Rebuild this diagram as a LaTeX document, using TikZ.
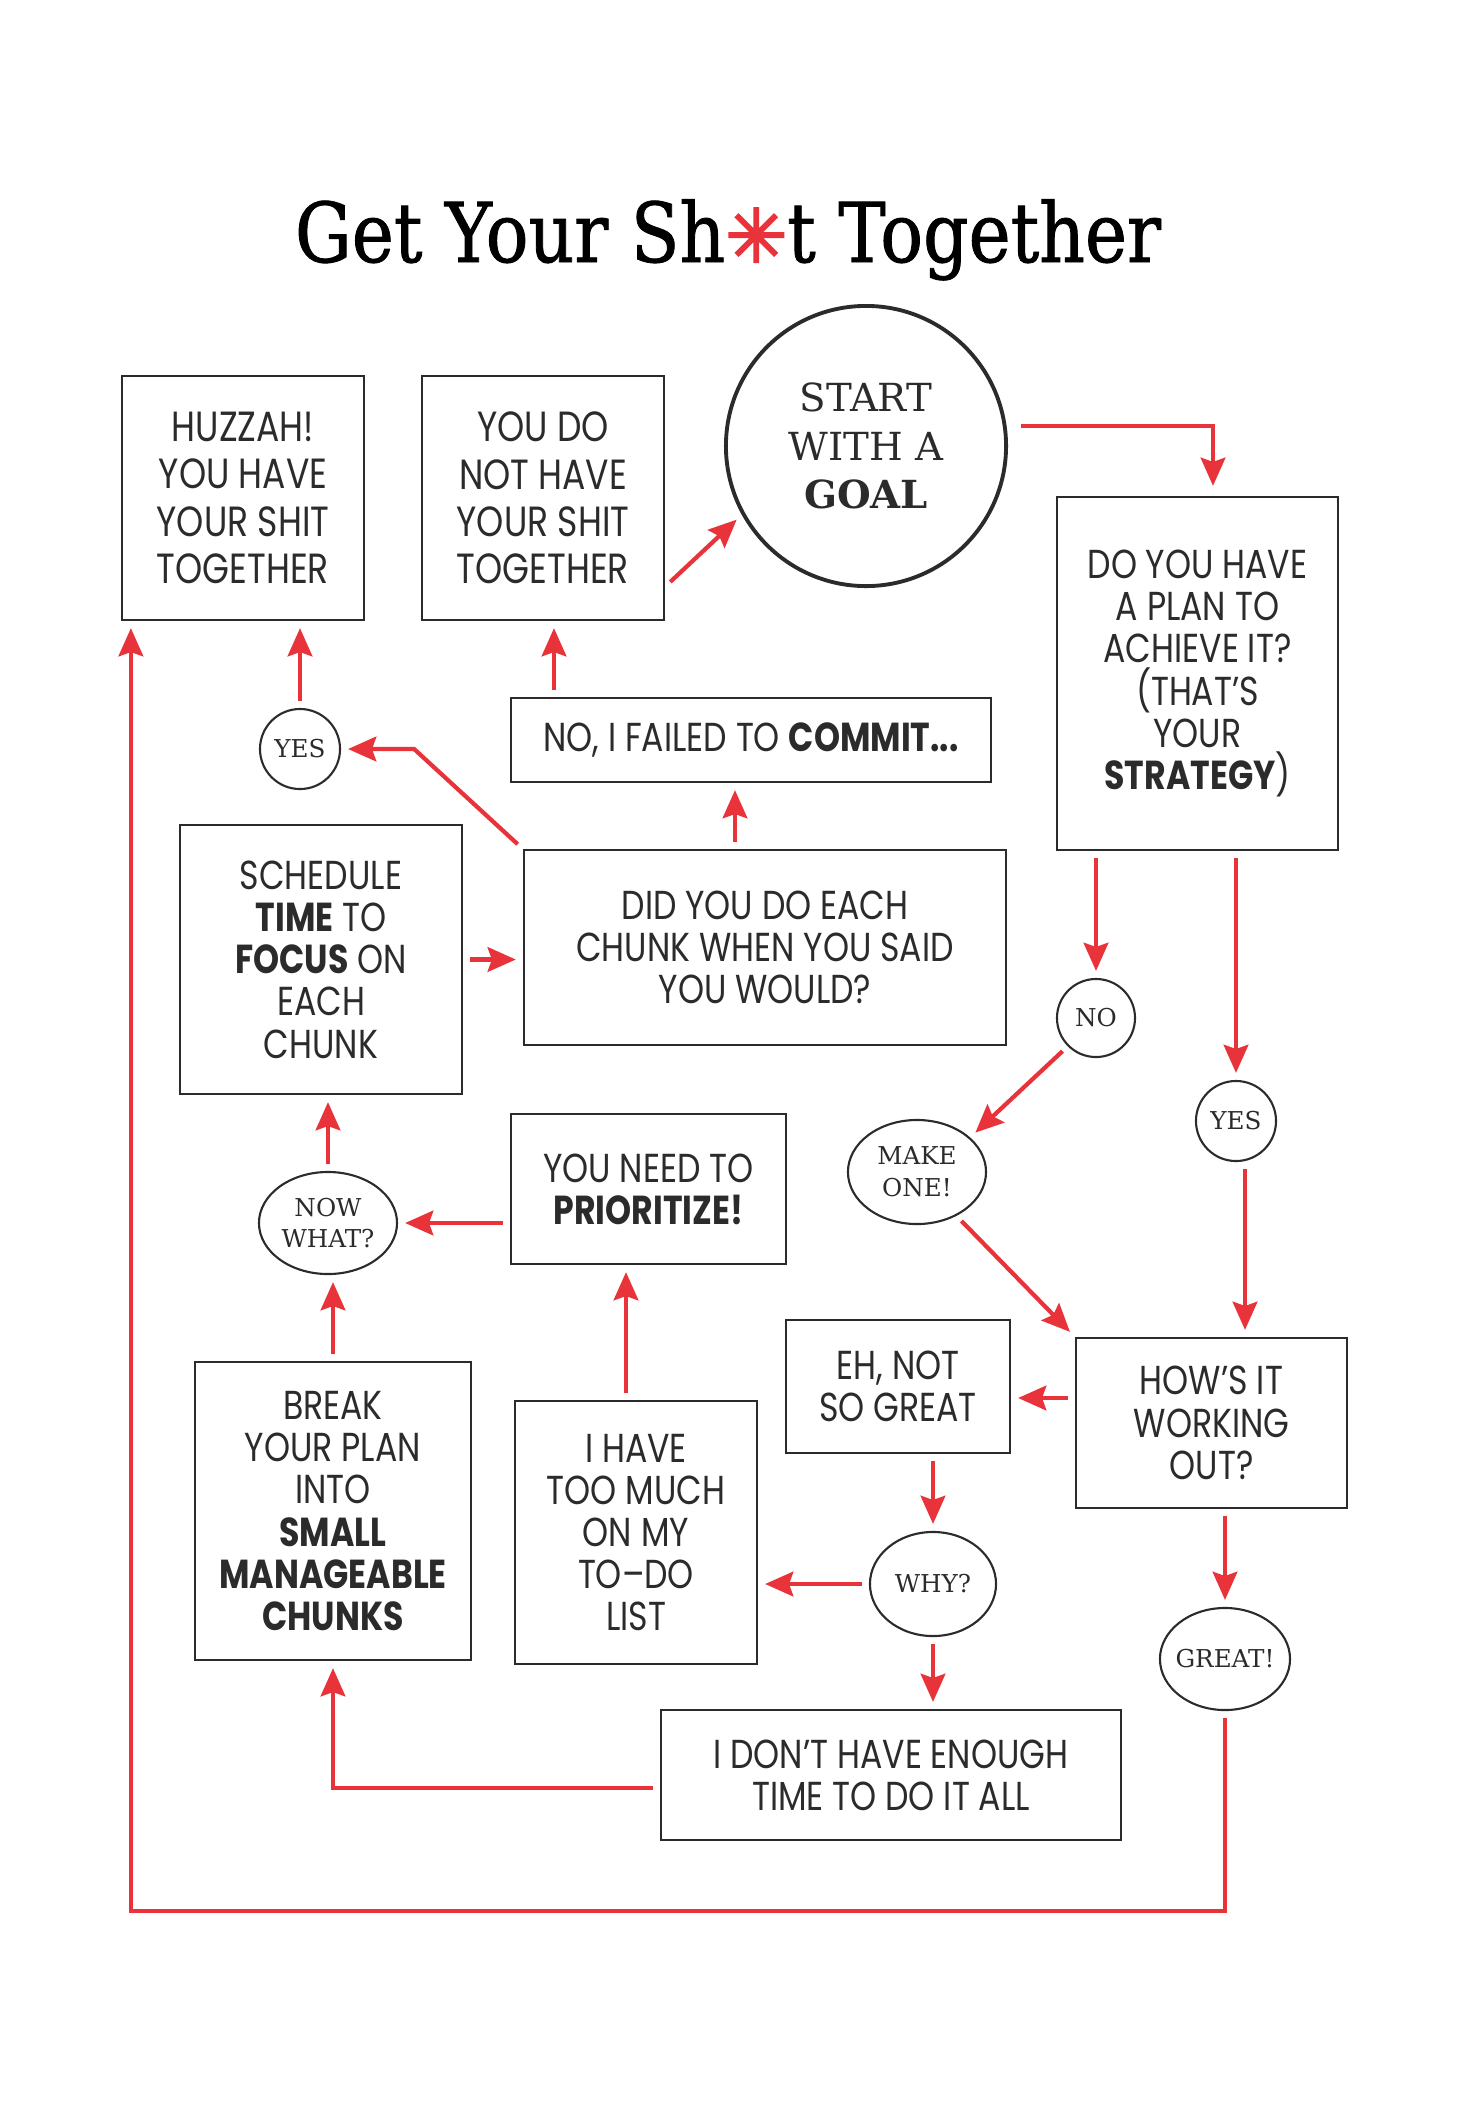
\documentclass[tikz,border=0pt]{standalone}
\usepackage{fontspec}
\setmainfont{Poppins}[FakeStretch=0.82]
\newfontfamily\serifface{DejaVu Serif}
\newfontfamily\titleface{DejaVu Serif}[FakeStretch=0.86,FakeBold=1]
\newfontfamily\symface{DejaVu Sans}[FakeBold=3]
\usetikzlibrary{arrows.meta,shapes.geometric}
\definecolor{arrred}{HTML}{E8333A}
\definecolor{ink}{HTML}{2B2B2B}

\begin{document}
\begin{tikzpicture}[x=0.01cm,y=-0.01cm,
  box/.style={draw=ink,line width=0.6pt,inner sep=0pt,align=center,text=ink,font=\fontsize{11.5}{12}\selectfont},
  tallbox/.style={box,font=\fontsize{12}{13.5}\selectfont},
  goal/.style={circle,draw=ink,line width=1.1pt,inner sep=0pt,align=center,text=ink,minimum size=2.8cm,font=\serifface\fontsize{11}{13.7}\selectfont},
  bubble/.style={ellipse,draw=ink,line width=0.6pt,inner xsep=-2pt,inner ysep=0pt,align=center,text=ink,font=\serifface\fontsize{7}{9}\selectfont},
  arr/.style={draw=arrred,line width=1.2pt,-{Stealth[length=8pt,width=7pt,inset=1.2pt]},shorten >=0.07cm,shorten <=0.07cm}]

\useasboundingbox (0,0) rectangle (1456,2108);

%Title
\node [anchor=base] (title) at (728,262) {\titleface\fontsize{23.5}{26}\selectfont Get Your Sh\textcolor{arrred}{\symface\fontsize{21}{26}\selectfont ✳}t Together};

%Top row
\node [tallbox,minimum width=2.42cm,minimum height=2.44cm] (huzzah) at (243,498) {HUZZAH!\\YOU HAVE\\YOUR SHIT\\TOGETHER};
\node [tallbox,minimum width=2.42cm,minimum height=2.44cm] (notdone) at (543,498) {YOU DO\\NOT HAVE\\YOUR SHIT\\TOGETHER};
\node [goal] (start) at (866,446) {START\\WITH A\\\textbf{GOAL}};
\node [box,minimum width=2.81cm,minimum height=3.53cm] (plan) at (1197.5,673.5) {DO YOU HAVE\\A PLAN TO\\ACHIEVE IT?\\(THAT’S\\YOUR\\\textbf{STRATEGY})};

%Middle
\node [box,minimum width=4.80cm,minimum height=0.84cm] (failed) at (751,740) {NO, I FAILED TO \textbf{COMMIT...}};
\node [bubble,minimum width=0.8cm,minimum height=0.8cm] (yesA) at (300,749) {YES};
\node [box,minimum width=2.82cm,minimum height=2.69cm] (schedule) at (321,959.5) {SCHEDULE\\\textbf{TIME} TO\\\textbf{FOCUS} ON\\EACH\\CHUNK};
\node [box,minimum width=4.82cm,minimum height=1.95cm] (did) at (765,947.5) {DID YOU DO EACH\\CHUNK WHEN YOU SAID\\YOU WOULD?};
\node [bubble,minimum width=0.78cm,minimum height=0.78cm] (noC) at (1096,1018) {NO};
\node [bubble,minimum width=0.8cm,minimum height=0.8cm] (yesB) at (1236,1121) {YES};
\node [bubble,minimum width=1.38cm,minimum height=1.04cm] (makeone) at (917,1172) {MAKE\\ONE!};
\node [box,minimum width=2.75cm,minimum height=1.50cm] (prioritize) at (648.5,1189) {YOU NEED TO\\\textbf{PRIORITIZE!}};
\node [bubble,minimum width=1.38cm,minimum height=1.02cm] (nowwhat) at (328,1223) {NOW\\WHAT?};

%Bottom
\node [box,minimum width=2.24cm,minimum height=1.33cm] (eh) at (898,1386.5) {EH, NOT\\SO GREAT};
\node [box,minimum width=2.71cm,minimum height=1.70cm] (hows) at (1211.5,1423) {HOW’S IT\\WORKING\\OUT?};
\node [box,minimum width=2.76cm,minimum height=2.98cm] (breakup) at (333,1511) {BREAK\\YOUR PLAN\\INTO\\\textbf{SMALL}\\\textbf{MANAGEABLE}\\\textbf{CHUNKS}};
\node [box,minimum width=2.42cm,minimum height=2.63cm] (toomuch) at (636,1532.5) {I HAVE\\TOO MUCH\\ON MY\\TO–DO\\LIST};
\node [bubble,minimum width=1.26cm,minimum height=1.04cm] (why) at (933,1584) {WHY?};
\node [bubble,minimum width=1.30cm,minimum height=1.02cm] (great) at (1225,1659) {GREAT!};
\node [box,minimum width=4.60cm,minimum height=1.30cm] (notime) at (891,1775) {I DON’T HAVE ENOUGH\\TIME TO DO IT ALL};

%Arrows
\draw [arr,shorten <=0.14cm,shorten >=0.1cm] (start.8) -| ([xshift=1.55mm]plan.north);
\draw [arr] (notdone.-36) -- (start.209);
\draw [arr] ([xshift=1.1mm]notdone.south |- failed.north) -- ([xshift=1.1mm]notdone.south);
\draw [arr] ([xshift=-3mm]did.north) -- ([xshift=-3mm]did.north |- failed.south);
\draw [arr] (did.north west) -- ([xshift=7.3mm]yesA.east) -- (yesA.east);
\draw [arr] (yesA.north) -- (yesA.north |- huzzah.south);
\draw [arr] (schedule.east) -- (schedule.east -| did.west);
\draw [arr] (noC.north |- plan.south) -- (noC.north);
\draw [arr] (yesB.north |- plan.south) -- (yesB.north);
\draw [arr] (noC.225) -- (makeone.33);
\draw [arr] ([xshift=0.9mm]yesB.south) -- ([xshift=0.9mm]yesB.south |- hows.north);
\draw [arr] (makeone.-48) -- (hows.north west);
\draw [arr] ([yshift=2.5mm]hows.west) -- ([yshift=2.5mm]hows.west -| eh.east);
\draw [arr] (great.north |- hows.south) -- (great.north);
\draw [arr] (why.north |- eh.south) -- (why.north);
\draw [arr] (why.west) -- (why.west -| toomuch.east);
\draw [arr] (why.south) -- (why.south |- notime.north);
\draw [arr] ([yshift=-1.3mm]notime.west) -| (breakup.south);
\draw [arr] ([xshift=-1mm]toomuch.north) -- ([xshift=-1mm]toomuch.north |- prioritize.south);
\draw [arr] (prioritize.west |- nowwhat.east) -- (nowwhat.east);
\draw [arr] (breakup.north) -- (breakup.north |- nowwhat.south);
\draw [arr] (nowwhat.north) -- (nowwhat.north |- schedule.south);
\draw [arr] (great.south) -- ++(0,200) -| ([xshift=1mm]huzzah.south west);

\end{tikzpicture}
\end{document}
